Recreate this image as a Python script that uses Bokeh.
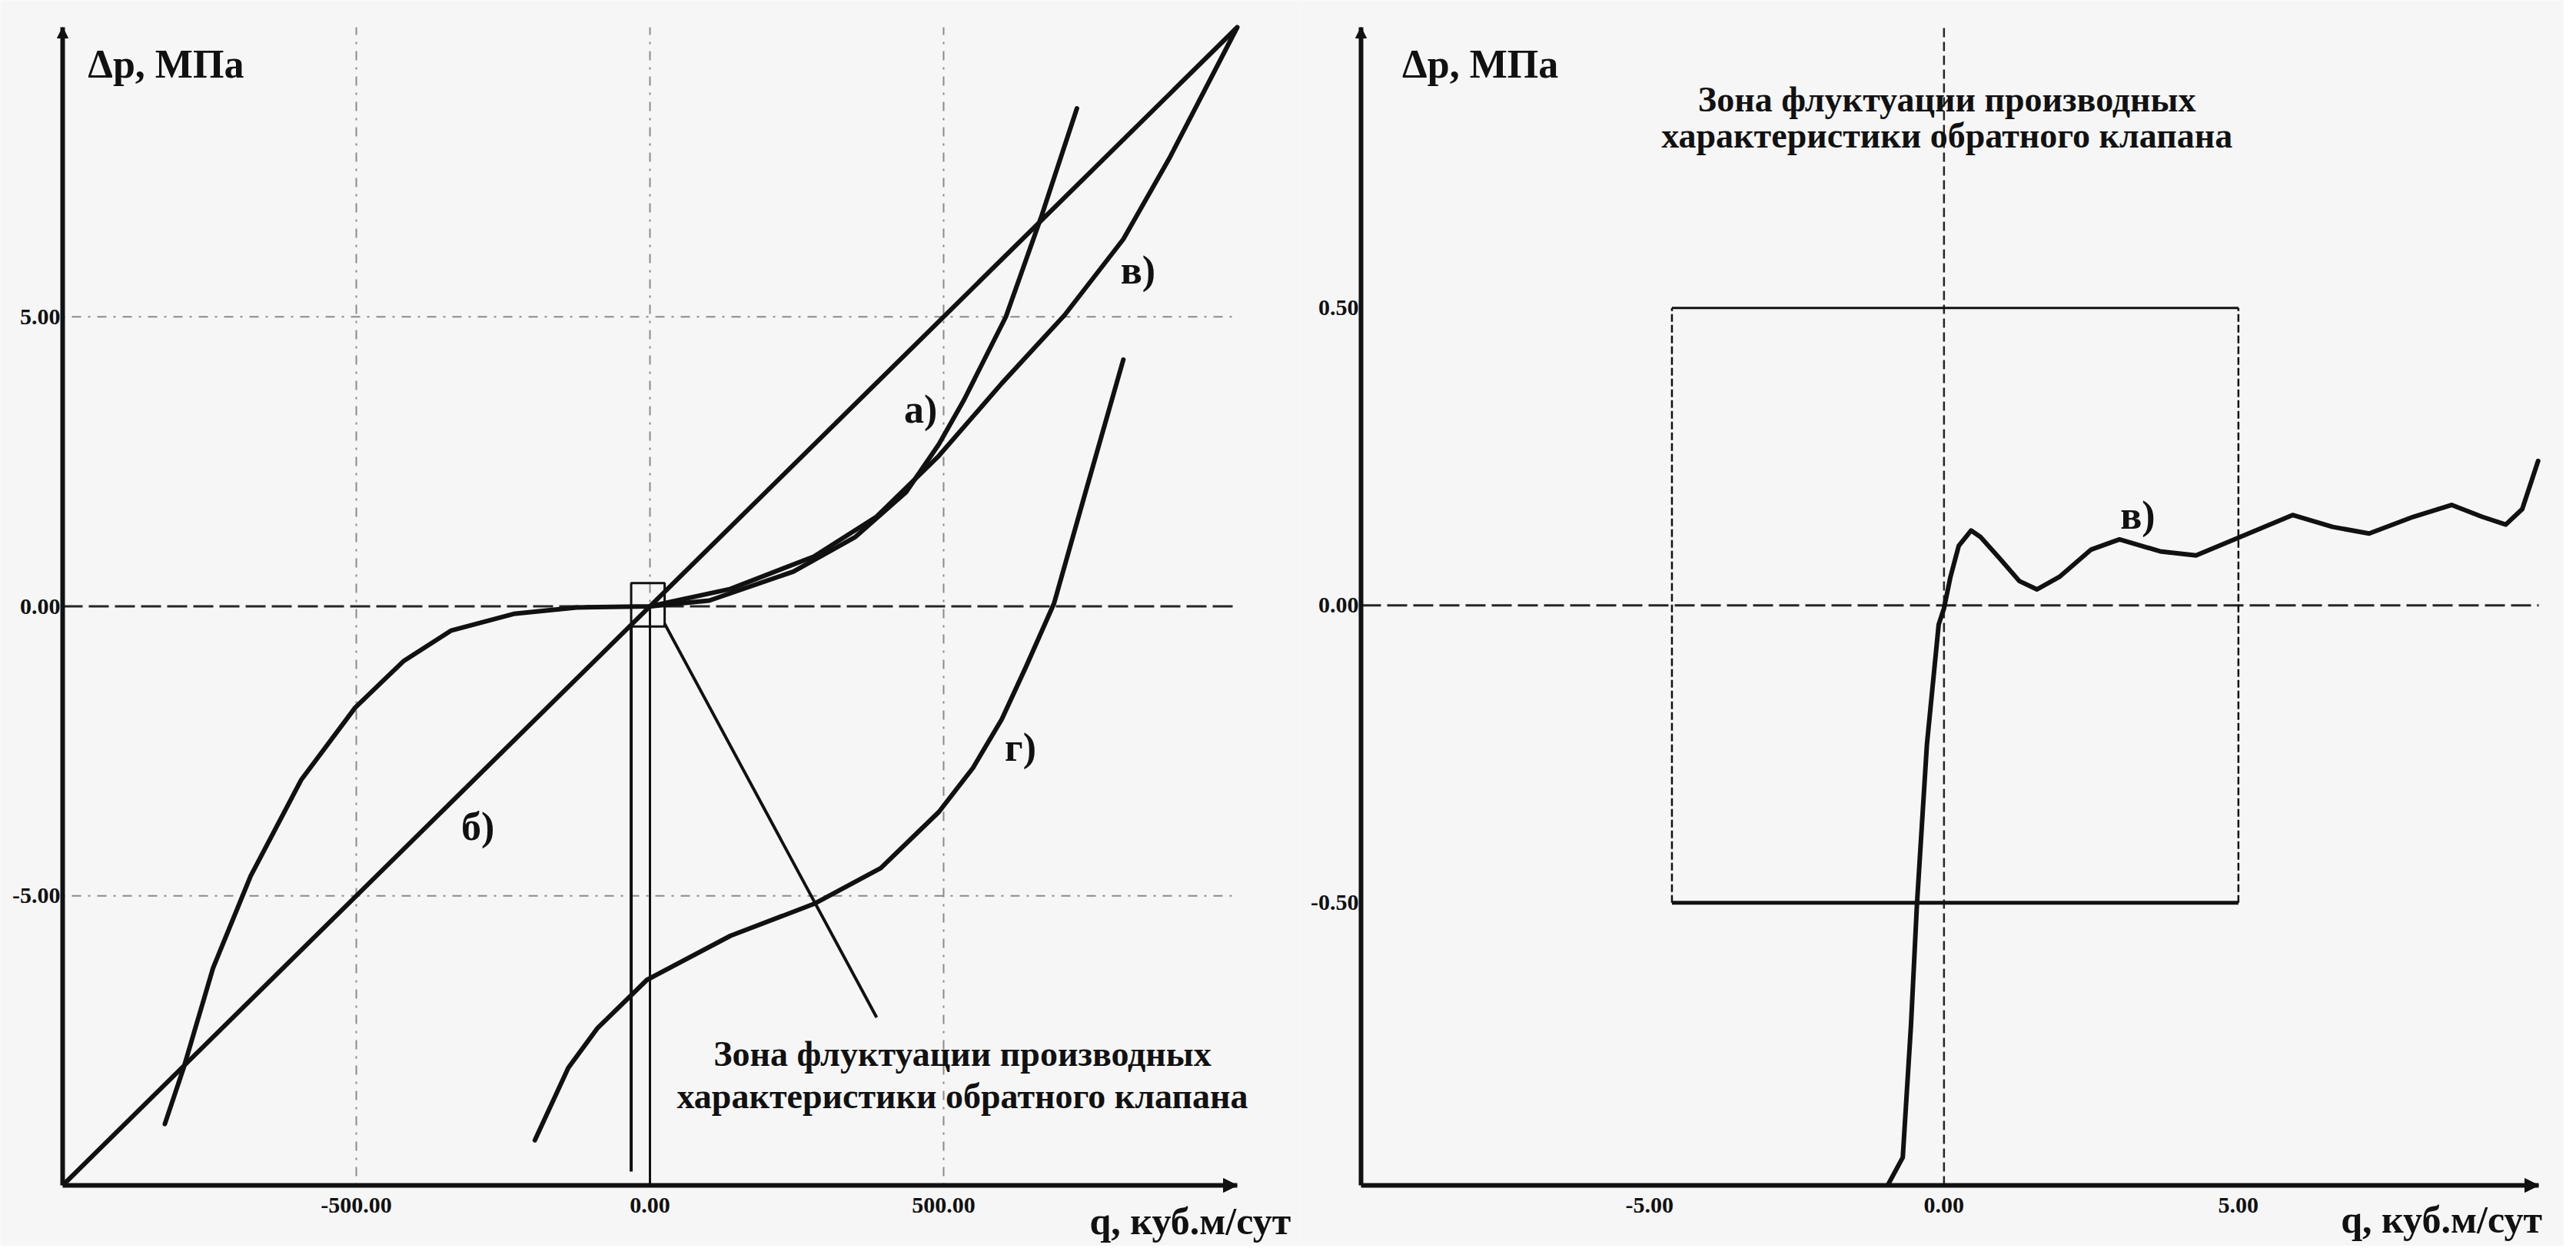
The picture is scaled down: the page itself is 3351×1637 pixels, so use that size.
from bokeh.plotting import figure
from bokeh.layouts import row
from bokeh.models import Label, FixedTicker, PrintfTickFormatter, Arrow, NormalHead, Range1d
from bokeh.embed import file_html
from bokeh.resources import INLINE

# ---------------- data (left chart) ----------------
q_ticks_left = [-500, 0, 500]
dp_ticks_left = [-5, 0, 5]
q_range_left = [-1000, 1000]
dp_range_left = [-10, 10]

curve_a_q = [-826, -794, -744, -680, -594, -502, -420, -339, -232, -125, 0, 101, 244, 350, 436, 492, 535, 606, 667, 727]
curve_a_dp = [-8.94, -7.97, -6.25, -4.66, -3.0, -1.75, -0.95, -0.42, -0.13, -0.02, 0, 0.1, 0.6, 1.2, 1.97, 2.8, 3.57, 5.0, 6.75, 8.6]

curve_b_q = [-1000, 1000]
curve_b_dp = [-10, 10]

curve_v_q = [0, 137, 279, 386, 492, 599, 706, 806, 884, 1000]
curve_v_dp = [0, 0.3, 0.86, 1.55, 2.6, 3.85, 5.03, 6.34, 7.73, 10]

curve_g_q = [-196, -139, -89, -5, 137, 279, 393, 492, 550, 599, 640, 688, 741, 806]
curve_g_dp = [-9.22, -7.97, -7.28, -6.45, -5.69, -5.14, -4.52, -3.55, -2.79, -1.95, -1.05, 0.05, 1.95, 4.26]

zone_q = [-32, 25]
zone_dp = [-0.35, 0.4]
zone_strip_end_dp = -9.76
pointer_q = [25, 386]
pointer_dp = [-0.3, -7.1]

# ---------------- data (right chart) ----------------
q_ticks_right = [-5, 0, 5]
dp_ticks_right = [-0.5, 0, 0.5]
q_range_right = [-9.9, 10.1]
dp_range_right = [-0.975, 0.972]

curve_r_q = [-0.94, -0.70, -0.56, -0.46, -0.29, -0.09, 0.0, 0.11, 0.25, 0.46, 0.62, 0.93, 1.28, 1.58, 1.96, 2.5,
             2.98, 3.67, 4.28, 5.03, 5.92, 6.6, 7.22, 7.97, 8.62, 9.14, 9.54, 9.82, 10.09]
curve_r_dp = [-0.972, -0.928, -0.705, -0.504, -0.234, -0.032, -0.005, 0.048, 0.10, 0.126, 0.115, 0.081, 0.041, 0.027,
              0.048, 0.094, 0.111, 0.091, 0.084, 0.115, 0.152, 0.132, 0.121, 0.149, 0.169, 0.149, 0.136, 0.162, 0.243]

box_q = [-4.62, 5.0]
box_dp = [-0.5, 0.5]

FONT = "Liberation Serif"
BG = "#f6f6f6"
INK = "#111111"
ZONE_TEXT = ["Зона флуктуации производных", "характеристики обратного клапана"]


def make_fig(xr, yr, fw, fh, pad_l, pad_r, pad_t, pad_b, xt, yt):
    # the frame covers the whole figure; pads (pixels) leave room around the axes
    data_w = fw - pad_l - pad_r
    data_h = fh - pad_t - pad_b
    kx = (xr[1] - xr[0]) / data_w
    ky = (yr[1] - yr[0]) / data_h
    xlo, xhi = xr[0] - pad_l * kx, xr[1] + pad_r * kx
    ylo, yhi = yr[0] - pad_b * ky, yr[1] + pad_t * ky
    p = figure(x_range=Range1d(xlo, xhi), y_range=Range1d(ylo, yhi), frame_width=fw, frame_height=fh,
               min_border=0, output_backend="svg", toolbar_location=None, background_fill_color=BG,
               border_fill_color=BG, outline_line_color=None)
    p.grid.visible = False
    p.xaxis.fixed_location = yr[0]
    p.yaxis.fixed_location = xr[0]
    p.xaxis.bounds = (xr[0], xr[1])
    p.yaxis.bounds = (yr[0], yr[1])
    p.xaxis.ticker = FixedTicker(ticks=xt)
    p.yaxis.ticker = FixedTicker(ticks=yt)
    for ax in (p.xaxis[0], p.yaxis[0]):
        ax.formatter = PrintfTickFormatter(format="%.2f")
        ax.axis_line_width = 6
        ax.axis_line_color = INK
        ax.major_tick_line_color = None
        ax.minor_tick_line_color = None
        ax.major_tick_out = 0
        ax.major_tick_in = 0
        ax.major_label_text_font = FONT
        ax.major_label_text_font_size = "30px"
        ax.major_label_text_font_style = "bold"
        ax.major_label_text_color = INK
    p.xaxis.major_label_standoff = 16
    p.yaxis.major_label_standoff = 3
    # arrow heads of the axes
    p.add_layout(Arrow(end=NormalHead(size=18, fill_color=INK, line_color=INK), line_width=0,
                       x_start=xr[1] - (xr[1] - xr[0]) * 0.01, y_start=yr[0], x_end=xr[1], y_end=yr[0]))
    p.add_layout(Arrow(end=NormalHead(size=14, fill_color=INK, line_color=INK), line_width=0,
                       x_start=xr[0], y_start=yr[1] - (yr[1] - yr[0]) * 0.01, x_end=xr[0], y_end=yr[1]))
    return p


def label(p, x, y, text, size, align="center", bold=True):
    p.add_layout(Label(x=x, y=y, text=text, text_font=FONT, text_font_size=size,
                       text_font_style="bold" if bold else "normal", text_color=INK,
                       text_align=align, text_baseline="middle"))


def grid_lines(p, xr, yr, xt, yt, styles):
    for v in xt:
        p.line([v, v], [yr[0], yr[1]], **styles(v, "v"))
    for v in yt:
        p.line([xr[0], xr[1]], [v, v], **styles(v, "h"))


FAINT = dict(line_color="#8a8a8a", line_width=2, line_dash="3 9 12 9")
ZERO_H = dict(line_color="#262626", line_width=3, line_dash="26 8")
lw = 6

# ================= left chart =================
p1 = make_fig(q_range_left, dp_range_left, 1692, 1621, 81, 83, 35, 79, q_ticks_left, dp_ticks_left)
grid_lines(p1, q_range_left, dp_range_left, q_ticks_left, dp_ticks_left,
           lambda v, d: ZERO_H if (d == "h" and v == 0) else FAINT)

p1.line(curve_b_q, curve_b_dp, line_color=INK, line_width=lw)
p1.line(curve_a_q, curve_a_dp, line_color=INK, line_width=lw, line_join="round", line_cap="round")
p1.line(curve_v_q, curve_v_dp, line_color=INK, line_width=lw, line_join="round", line_cap="round")
p1.line(curve_g_q, curve_g_dp, line_color=INK, line_width=lw, line_join="round", line_cap="round")

# zone marker at the origin
p1.line([zone_q[0], zone_q[1], zone_q[1], zone_q[0], zone_q[0]],
        [zone_dp[0], zone_dp[0], zone_dp[1], zone_dp[1], zone_dp[0]], line_color=INK, line_width=3)
p1.line([zone_q[0], zone_q[0]], [zone_dp[0], zone_strip_end_dp], line_color=INK, line_width=4)
p1.line([0, 0], [0, dp_range_left[0]], line_color=INK, line_width=3)
p1.line(pointer_q, pointer_dp, line_color=INK, line_width=4)

label(p1, -957, 9.36, "Δp, МПа", "52px", align="left")
label(p1, 461, 3.4, "а)", "52px")
label(p1, 831, 5.8, "в)", "52px")
label(p1, -293, -3.8, "б)", "52px")
label(p1, 631, -2.44, "г)", "52px")
label(p1, 532, -7.73, ZONE_TEXT[0], "46px")
label(p1, 532, -8.46, ZONE_TEXT[1], "46px")
label(p1, 920, -10.62, "q, куб.м/сут", "50px")

# ================= right chart =================
p2 = make_fig(q_range_right, dp_range_right, 1643, 1621, 78, 33, 35, 79, q_ticks_right, dp_ticks_right)
p2.line([0, 0], [dp_range_right[0], dp_range_right[1]], line_color="#262626", line_width=2.5, line_dash="12 6")
p2.line([q_range_right[0], q_range_right[1]], [0, 0], **ZERO_H)

# zone box
p2.line([box_q[0], box_q[1]], [box_dp[1], box_dp[1]], line_color=INK, line_width=3)
p2.line([box_q[0], box_q[1]], [box_dp[0], box_dp[0]], line_color=INK, line_width=5)
p2.line([box_q[0], box_q[0]], [box_dp[0], box_dp[1]], line_color=INK, line_width=2.5, line_dash="10 4")
p2.line([box_q[1], box_q[1]], [box_dp[0], box_dp[1]], line_color=INK, line_width=2.5, line_dash="10 4")

p2.line(curve_r_q, curve_r_dp, line_color=INK, line_width=lw, line_join="round", line_cap="round")

label(p2, -9.2, 0.91, "Δp, МПа", "52px", align="left")
label(p2, 0.05, 0.851, ZONE_TEXT[0], "46px")
label(p2, 0.05, 0.79, ZONE_TEXT[1], "46px")
label(p2, 3.29, 0.152, "в)", "52px")
label(p2, 8.45, -1.033, "q, куб.м/сут", "50px")

layout = row(p1, p2)
open("out.html", "w").write(file_html(layout, INLINE))
